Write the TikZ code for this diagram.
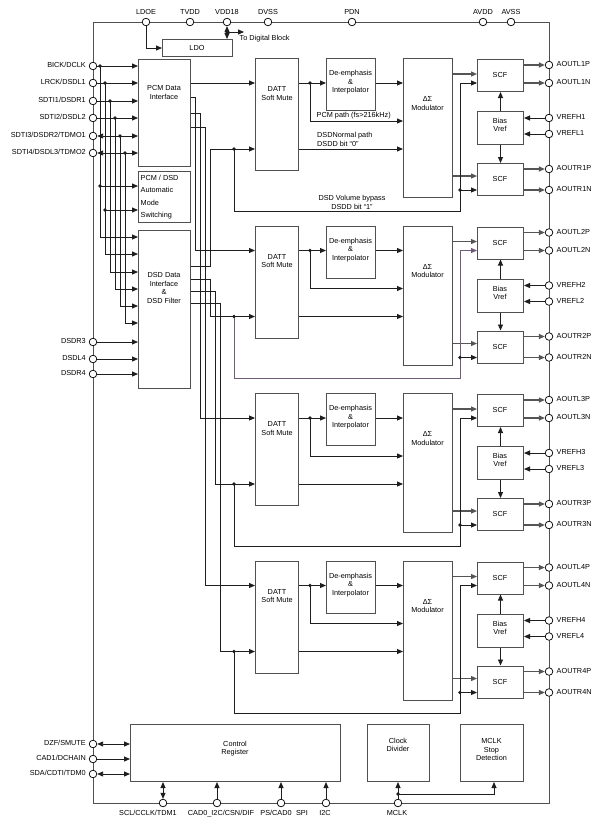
\documentclass[tikz,border=0pt]{standalone}
\usepackage{fontspec}
\setmainfont{Liberation Sans}
\usetikzlibrary{arrows.meta,calc}
\definecolor{boxc}{HTML}{505050}
\definecolor{linec}{HTML}{1E1E1E}
\definecolor{grayl}{HTML}{555555}
\definecolor{purp}{HTML}{6E5C78}
\tikzset{
  fs/.style={font=\fontsize{7.3}{8.7}\selectfont},
  blk/.style={draw=boxc, line width=1pt, inner sep=0, anchor=north west, fill=white},
  pio/.style={circle, draw=black, line width=0.7pt, fill=white, minimum size=7.6pt, inner sep=0},
  txt/.style={inner sep=0.5pt, text=black, fs},
  lab/.style={txt, text height=5.3pt, text depth=1.4pt},
  wire/.style={draw=linec, line width=0.9pt},
  gwire/.style={draw=grayl, line width=1.2pt},
  tip/.style={-{Triangle[length=6pt,width=5pt]}},
  arr/.style={wire, tip},
  garr/.style={gwire, tip},
  darr/.style={wire, {Triangle[length=6pt,width=5pt]}-{Triangle[length=6pt,width=5pt]}},
}
\newcommand\blk[5]{\node[blk,minimum width={(#4)-(#2)},minimum height={(#5)-(#3)}] (#1) at (#2,#3) {};}
\newcommand\jdot[1]{\fill[linec] (#1) circle (1.9pt);}
\newcommand\lpin[3]{\node[pio] (#1) at (93,#2) {}; \node[lab,anchor=east] (#1t) at (86.5,#2) {#3};}
\newcommand\rpin[3]{\node[pio] (#1) at (549,#2) {}; \node[lab,anchor=west] (#1t) at (556,#2) {#3};}
\begin{document}
\begin{tikzpicture}[x=1pt,y=-1pt]
\useasboundingbox[fill=white] (0,0) rectangle (601,827);
% outer border
\draw[draw=boxc, line width=1pt] (93,22) rectangle (549,803);
% top pins
\foreach \n/\x in {LDOE/146, TVDD/190, VDD18/227, DVSS/268, PDN/352, AVDD/483, AVSS/511}{
  \node[pio] (p\n) at (\x,22) {};
  \node[lab] (t\n) at (\x,13) {\n};
}
% left pins
\lpin{bick}{66}{BICK/DCLK}
\lpin{lrck}{83}{LRCK/DSDL1}
\lpin{sdti1}{101}{SDTI1/DSDR1}
\lpin{sdti2}{118}{SDTI2/DSDL2}
\lpin{sdti3}{136}{SDTI3/DSDR2/TDMO1}
\lpin{sdti4}{153}{SDTI4/DSDL3/TDMO2}
\lpin{dsdr3}{342}{DSDR3}
\lpin{dsdl4}{359}{DSDL4}
\lpin{dsdr4}{374}{DSDR4}
\lpin{dzf}{744}{DZF/SMUTE}
\lpin{cad1}{759}{CAD1/DCHAIN}
\lpin{sda}{774}{SDA/CDTI/TDM0}
% bottom pins
\node[pio] (scl) at (163,803) {};
\node[pio] (cad0) at (217,803) {};
\node[pio] (ps) at (281,803) {};
\node[pio] (i2c) at (326,803) {};
\node[pio] (mclk) at (398,803) {};
\node[lab] (sclt) at (148,814) {SCL/CCLK/TDM1};
\node[lab] (cad0t) at (221,814) {CAD0\_I2C/CSN/DIF};
\node[lab] (pst) at (276,814) {PS/CAD0};
\node[lab] (spit) at (302,814) {SPI};
\node[lab] (i2ct) at (325,814) {I2C};
\node[lab] (mclkt) at (397,814) {MCLK};
% LDO
\blk{ldo}{162}{39}{232}{56}
\node[txt] (ldot) at (197,47.5) {LDO};
\draw[arr] (pLDOE) -- (146,48) -- (ldo.west |- 0,48);
\draw[darr] (pVDD18) -- (pVDD18 |- ldo.north);
\jdot{227,32}
\draw[arr] (227,32) -- (244,32);
\node[lab,anchor=west] (tdig) at (239,38.5) {To Digital Block};
% left blocks
\blk{pcm}{138}{59}{190}{166}
\node[txt,align=center] (pcmt) at (164,92.5) {PCM Data\\Interface};
\blk{auto}{138}{171}{190}{222}
\node[txt,align=left,anchor=west,font=\fontsize{7.3}{12.3}\selectfont] (autot) at (140,197) {PCM / DSD\\Automatic\\Mode\\Switching};
\blk{dsd}{138}{230}{190}{388}
\node[txt,align=center] (dsdt) at (164,288) {DSD Data\\Interface\\\&\\DSD Filter};
% bottom blocks
\blk{ctrl}{130}{724}{340}{781}
\node[txt,align=center] (ctrlt) at (235,748.5) {Control\\Register};
\blk{clk}{367}{724}{429}{781}
\node[txt,align=center] (clkt) at (398,745) {Clock\\Divider};
\blk{mstop}{460}{724}{523}{781}
\node[txt,align=center] (mstopt) at (491.5,749.5) {MCLK\\Stop\\Detection};
% left inputs
\draw[arr] (bick) -- (pcm.west |- bick);
\draw[arr] (lrck) -- (pcm.west |- lrck);
\draw[arr] (sdti1) -- (pcm.west |- sdti1);
\draw[arr] (sdti2) -- (pcm.west |- sdti2);
\draw[darr] (sdti3) -- (pcm.west |- sdti3);
\draw[darr] (sdti4) -- (pcm.west |- sdti4);
\draw[arr] (100,66) -- (100,237) -- (dsd.west |- 0,237);
\draw[arr] (105,83) -- (105,254) -- (dsd.west |- 0,254);
\draw[arr] (110,101) -- (110,272) -- (dsd.west |- 0,272);
\draw[arr] (115,118) -- (115,289) -- (dsd.west |- 0,289);
\draw[arr] (120,136) -- (120,306) -- (dsd.west |- 0,306);
\draw[arr] (125,153) -- (125,323) -- (dsd.west |- 0,323);
\draw[arr] (100,186) -- (auto.west |- 0,186);
\draw[arr] (105,210) -- (auto.west |- 0,210);
\foreach \p in {{100,66},{105,83},{110,101},{115,118},{120,136},{125,153},{100,186},{105,210}}{\jdot{\p}}
\draw[arr] (dsdr3) -- (dsd.west |- dsdr3);
\draw[arr] (dsdl4) -- (dsd.west |- dsdl4);
\draw[arr] (dsdr4) -- (dsd.west |- dsdr4);
% control
\draw[darr] (dzf) -- (ctrl.west |- dzf);
\draw[arr] (cad1) -- (ctrl.west |- cad1);
\draw[darr] (sda) -- (ctrl.west |- sda);
\draw[darr] (scl) -- (scl |- ctrl.south);
\draw[arr] (cad0) -- (cad0 |- ctrl.south);
\draw[arr] (ps) -- (ps |- ctrl.south);
\draw[arr] (i2c) -- (i2c |- ctrl.south);
\draw[arr] (mclk) -- (mclk |- clk.south);
\draw[arr] (398,794) -- (494,794) -- (494,794 |- mstop.south);
\jdot{398,794}
% channels
\foreach \k/\bc [evaluate=\k as \d using {167.5*(\k-1)}] in {1/linec,2/purp,3/linec,4/linec}{
  \blk{datt\k}{255}{58+\d}{298}{170+\d}
  \node[txt,align=center] (dattt\k) at (277,93.5+\d) {DATT\\Soft Mute};
  \blk{de\k}{326}{58+\d}{375}{110+\d}
  \node[txt,align=center,font=\fontsize{7.3}{8.5}\selectfont] (det\k) at (350.5,82.5+\d) {De-emphasis\\\&\\Interpolator};
  \blk{mod\k}{403}{58+\d}{452}{197+\d}
  \node[txt,align=center] (modt\k) at (427.5,103.5+\d) {ΔΣ\\Modulator};
  \blk{scfa\k}{477}{59+\d}{523}{91+\d}
  \node[txt] (scfat\k) at (500,75+\d) {SCF};
  \blk{bias\k}{477}{111+\d}{523}{144+\d}
  \node[txt,align=center,font=\fontsize{7.3}{8.2}\selectfont] (biast\k) at (500,125+\d) {Bias\\Vref};
  \blk{scfb\k}{477}{163+\d}{523}{195+\d}
  \node[txt] (scfbt\k) at (500,179+\d) {SCF};
  \rpin{lp\k}{65+\d}{AOUTL\k P}
  \rpin{ln\k}{83+\d}{AOUTL\k N}
  \rpin{vh\k}{118+\d}{VREFH\k}
  \rpin{vl\k}{134+\d}{VREFL\k}
  \rpin{rp\k}{169+\d}{AOUTR\k P}
  \rpin{rn\k}{190+\d}{AOUTR\k N}
  \draw[garr] (scfa\k.east |- lp\k) -- (lp\k);
  \draw[garr] (scfa\k.east |- ln\k) -- (ln\k);
  \draw[garr] (scfb\k.east |- rp\k) -- (rp\k);
  \draw[garr] (scfb\k.east |- rn\k) -- (rn\k);
  \draw[arr] (vh\k) -- (bias\k.east |- vh\k);
  \draw[arr] (vl\k) -- (bias\k.east |- vl\k);
  \draw[arr] (bias\k.north) -- (scfa\k.south);
  \draw[arr] (bias\k.south) -- (scfb\k.north);
  \draw[garr] (mod\k.east |- 0,74+\d) -- (scfa\k.west |- 0,74+\d);
  \draw[garr] (mod\k.east |- 0,176+\d) -- (scfb\k.west |- 0,176+\d);
  \draw[arr] (datt\k.east |- 0,83+\d) -- (de\k.west |- 0,83+\d);
  \draw[arr] (310,83+\d) -- (310,121+\d) -- (mod\k.west |- 0,121+\d);
  \draw[arr] (de\k.east |- 0,83+\d) -- (mod\k.west |- 0,83+\d);
  \draw[arr] (datt\k.east |- 0,149+\d) -- (mod\k.west |- 0,149+\d);
  \draw[arr,draw=\bc] (234,149+\d) -- (234,211+\d) -- (460,211+\d) -- (460,83+\d) -- (scfa\k.west |- 0,83+\d);
  \draw[arr] (460,190+\d) -- (scfb\k.west |- 0,190+\d);
  \jdot{234,149+\d}
  \jdot{310,83+\d}
  \jdot{460,190+\d}
}
% channel inputs
\draw[arr] (pcm.east |- 0,83) -- (datt1.west |- 0,83);
\draw[arr] (pcm.east |- 0,97) -- (195,97) -- (195,250.5) -- (datt2.west |- 0,250.5);
\draw[arr] (pcm.east |- 0,113) -- (200,113) -- (200,418) -- (datt3.west |- 0,418);
\draw[arr] (pcm.east |- 0,127) -- (205,127) -- (205,585.5) -- (datt4.west |- 0,585.5);
\draw[arr] (dsd.east |- 0,266) -- (210,266) -- (210,149) -- (datt1.west |- 0,149);
\draw[arr] (dsd.east |- 0,279) -- (210,279) -- (210,316.5) -- (datt2.west |- 0,316.5);
\draw[arr] (dsd.east |- 0,291) -- (215,291) -- (215,484) -- (datt3.west |- 0,484);
\draw[arr] (dsd.east |- 0,303) -- (220,303) -- (220,651.5) -- (datt4.west |- 0,651.5);
% path labels (channel 1)
\node[lab,anchor=west] (pcmpath) at (316,116) {PCM path (fs>216kHz)};
\node[txt,align=left,anchor=west] (dsdnorm) at (316.5,139.5) {DSDNormal path\\DSDD bit “0”};
\node[txt,align=center] (dsdvol) at (352,202.5) {DSD Volume bypass\\DSDD bit “1”};
\end{tikzpicture}
\end{document}
